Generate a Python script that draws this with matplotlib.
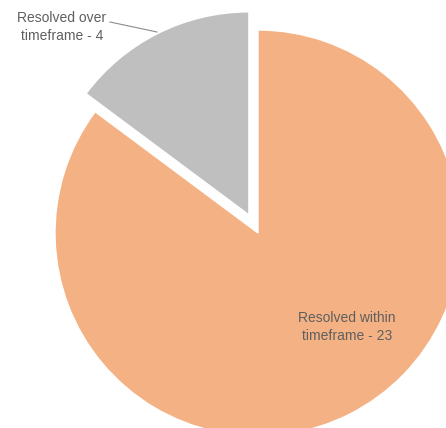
import matplotlib
matplotlib.use("Agg")
import matplotlib.pyplot as plt

categories = ["Resolved within timeframe", "Resolved over timeframe"]
values = [23, 4]
colors = ["#F4B183", "#BFBFBF"]
explode = [0, 0.1]

W, H = 446, 428
cx, cy, R = 258, 233, 203  # pixel center and radius of the pie

fig = plt.figure(figsize=(W / 100, H / 100), dpi=100)
ax = fig.add_axes([0, 0, 1, 1])
ax.pie(values, colors=colors, explode=explode, startangle=90, counterclock=False,
       radius=1, wedgeprops=dict(edgecolor="white", linewidth=1.0))
ax.set_aspect("auto")
ax.set_xlim(-cx / R, (W - cx) / R)
ax.set_ylim(-(H - cy) / R, cy / R)
ax.axis("off")

def d(px, py):
    return (px - cx) / R, (cy - py) / R

font = dict(family=["Liberation Sans", "DejaVu Sans"], size=10, color="#5f5f5f")

tx, ty = d(62, 27)
ax.text(tx, ty, f"Resolved over\ntimeframe - {values[1]}", ha="center", va="center",
        linespacing=1.4, **font)
x0, y0 = d(110, 22)
x1, y1 = d(157, 32)
ax.plot([x0, x1], [y0, y1], color="#8c8c8c", lw=0.8)

tx, ty = d(347, 327)
ax.text(tx, ty, f"Resolved within\ntimeframe - {values[0]}", ha="center", va="center",
        linespacing=1.4, **font)

fig.savefig("out.png", dpi=100)
